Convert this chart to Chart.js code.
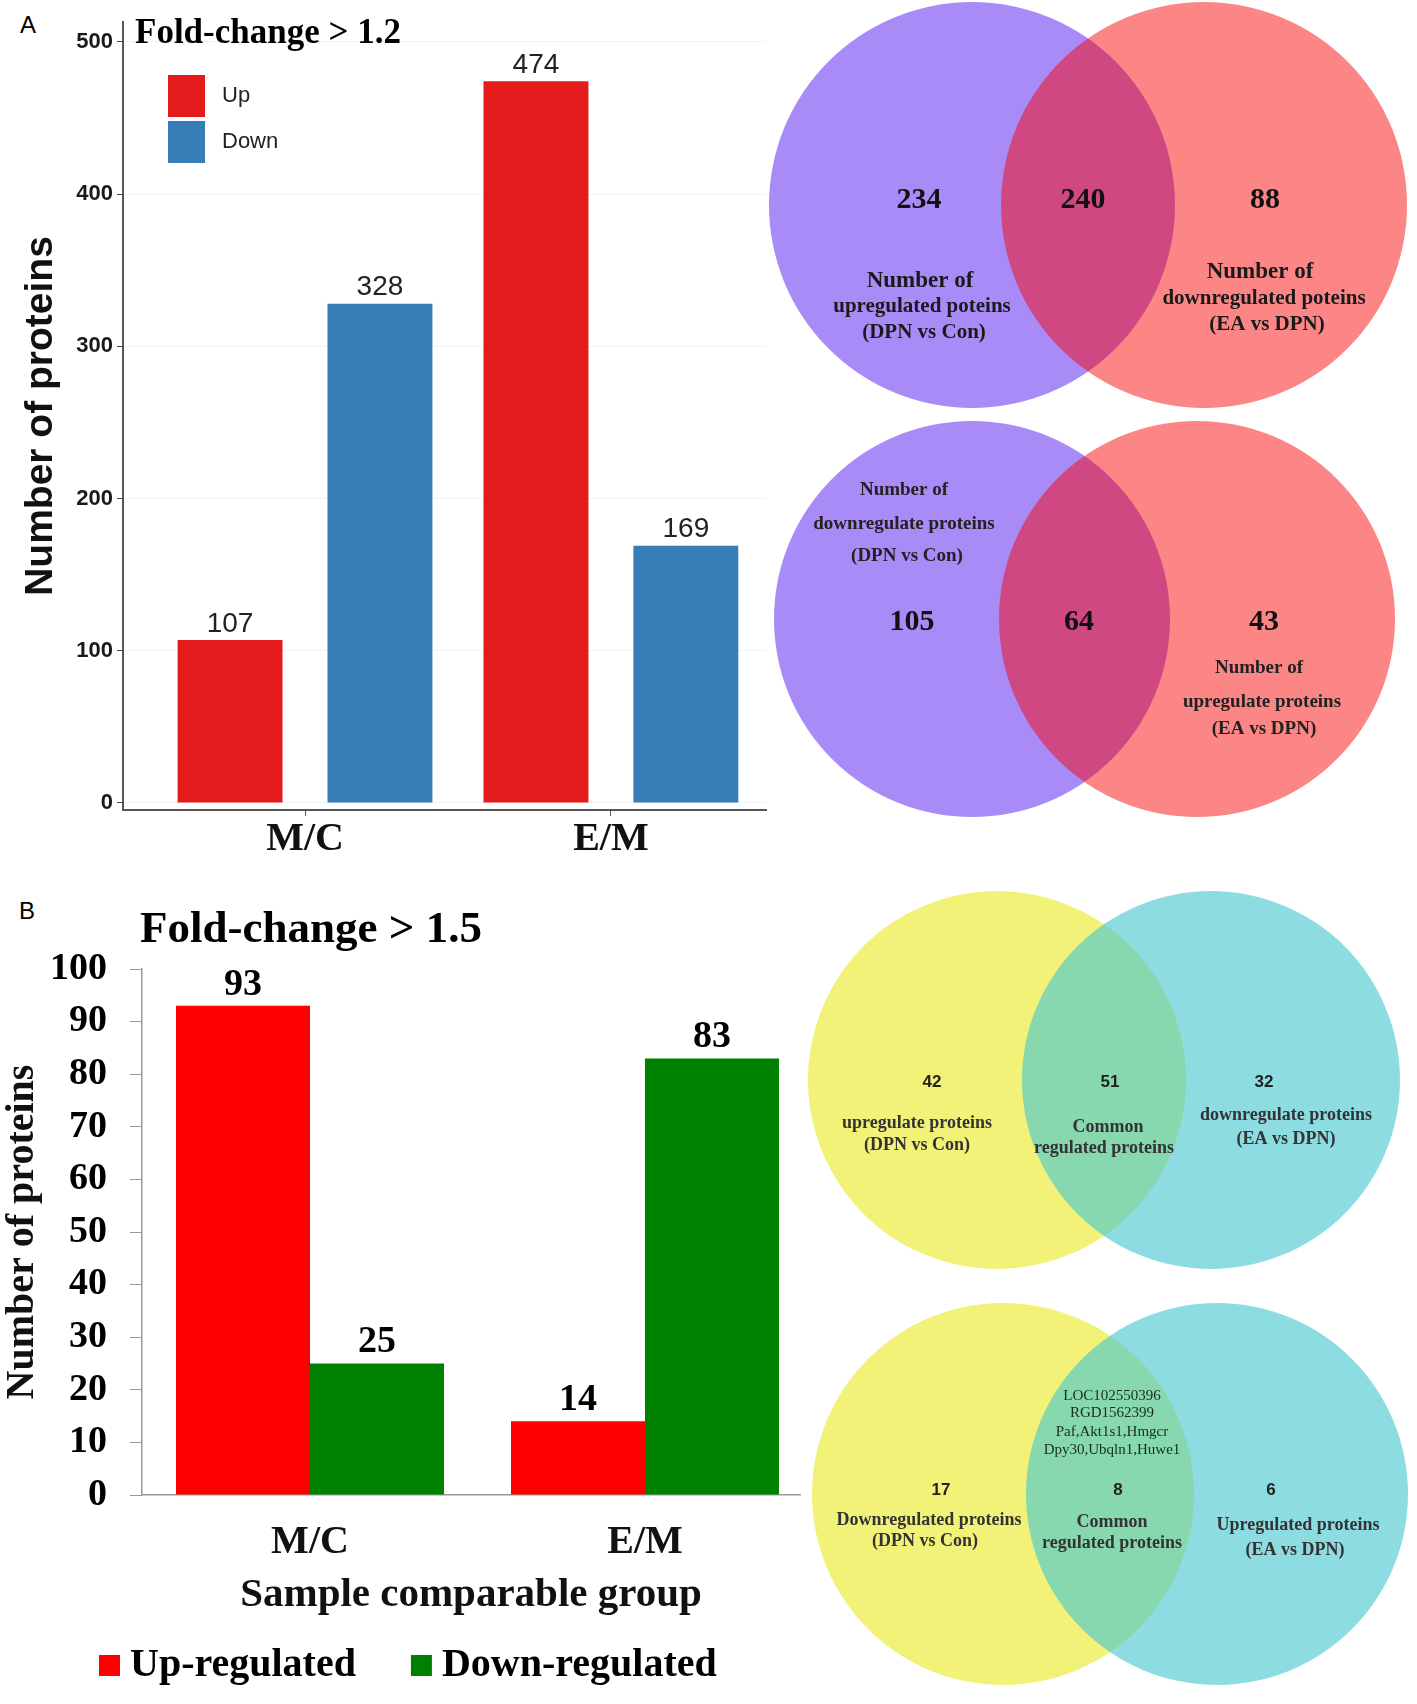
<!DOCTYPE html>
<html>
<head>
<meta charset="utf-8">
<script src="https://cdn.jsdelivr.net/npm/chart.js@4.4.1/dist/chart.umd.min.js"></script>
<style>
  html, body { margin: 0; padding: 0; background: #fff; }
  #page { position: relative; width: 1417px; height: 1704px; overflow: hidden; background: #fff; }
  canvas { position: absolute; }
  .tag { position: absolute; font: 24px/24px "Liberation Sans", Arial, sans-serif; color: #000; }
</style>
</head>
<body>
<div id="page">
  <div class="tag" style="left:20px;top:13px">A</div>
  <div class="tag" style="left:19px;top:899px">B</div>
  <canvas id="barA" width="770" height="870" style="left:0;top:0"></canvas>
  <canvas id="barB" width="810" height="834" style="left:0;top:870px"></canvas>
  <canvas id="vennA1" width="657" height="415" style="left:760px;top:0"></canvas>
  <canvas id="vennA2" width="657" height="420" style="left:760px;top:415px"></canvas>
  <canvas id="vennB1" width="627" height="410" style="left:790px;top:870px"></canvas>
  <canvas id="vennB2" width="627" height="419" style="left:790px;top:1285px"></canvas>
</div>
<script>
// ---- data ----
const groupsA = ['M/C', 'E/M'];
const upA = [107, 474];
const downA = [328, 169];
const yTicksA = [0, 100, 200, 300, 400, 500];

const groupsB = ['M/C', 'E/M'];
const upB = [93, 14];
const downB = [25, 83];
const yTicksB = [0, 10, 20, 30, 40, 50, 60, 70, 80, 90, 100];

// venn counts: [left only, shared, right only]
const vennUpA = [234, 240, 88];
const vennDownA = [105, 64, 43];
const vennUpB = [42, 51, 32];
const vennDownB = [17, 8, 6];
const sharedGenesB = ['LOC102550396', 'RGD1562399', 'Paf,Akt1s1,Hmgcr', 'Dpy30,Ubqln1,Huwe1'];

const SERIF = '"Liberation Serif", "Times New Roman", serif';
const SANS = '"Liberation Sans", Arial, sans-serif';

// free text drawn on a canvas; x/y are page pixels, shifted by the canvas offset
const notes = {
  id: 'notes',
  afterDatasetsDraw(chart, args, opts) {
    const ctx = chart.ctx;
    ctx.save();
    (opts.items || []).forEach(it => {
      ctx.font = it.font;
      ctx.fillStyle = it.color || '#111';
      ctx.textAlign = it.align || 'center';
      ctx.textBaseline = it.baseline || 'middle';
      ctx.fillText(it.text, it.x - (opts.left || 0), it.y - (opts.top || 0));
    });
    ctx.restore();
  }
};

// value printed above every bar
const barValues = {
  id: 'barValues',
  afterDatasetsDraw(chart, args, opts) {
    const ctx = chart.ctx;
    ctx.save();
    ctx.font = opts.font;
    ctx.fillStyle = opts.color;
    ctx.textAlign = 'center';
    ctx.textBaseline = 'middle';
    chart.data.datasets.forEach((ds, di) => {
      chart.getDatasetMeta(di).data.forEach((bar, i) => {
        ctx.fillText(String(ds.data[i].y), bar.x, bar.y - opts.offset);
      });
    });
    ctx.restore();
  }
};

// simple box legend, vertical or horizontal
const boxLegend = {
  id: 'boxLegend',
  afterDraw(chart, args, o) {
    const ctx = chart.ctx;
    ctx.save();
    ctx.font = o.font;
    ctx.textAlign = 'left';
    ctx.textBaseline = 'middle';
    let x = o.x, y = o.y;
    chart.data.datasets.forEach(ds => {
      ctx.fillStyle = ds.backgroundColor;
      ctx.fillRect(x, y, o.boxW, o.boxH);
      ctx.fillStyle = o.color;
      ctx.fillText(ds.label, x + o.boxW + o.gap, y + o.boxH / 2);
      if (o.horizontal) {
        x += o.boxW + o.gap + ctx.measureText(ds.label).width + o.spacing;
      } else {
        y += o.boxH + o.spacing;
      }
    });
    ctx.restore();
  }
};

const toPoints = arr => arr.map((v, i) => ({ x: i, y: v }));

// ---- panel A bar chart ----
new Chart(document.getElementById('barA'), {
  type: 'bar',
  data: {
    datasets: [
      { label: 'Up', data: toPoints(upA), backgroundColor: '#E41A1C', categoryPercentage: 0.98, barPercentage: 0.7 },
      { label: 'Down', data: toPoints(downA), backgroundColor: '#377EB8', categoryPercentage: 0.98, barPercentage: 0.7 }
    ]
  },
  options: {
    responsive: false,
    animation: false,
    devicePixelRatio: 1,
    events: [],
    layout: { padding: { top: 22, right: 4, bottom: 0, left: 0 } },
    scales: {
      x: {
        type: 'linear', min: -0.595, max: 1.507, offset: false,
        afterBuildTicks: s => { s.ticks = groupsA.map((g, i) => ({ value: i })); },
        afterFit: s => { s.height = 60; },
        ticks: {
          callback: v => groupsA[v], autoSkip: false, maxRotation: 0, padding: 0,
          color: '#111', font: { family: SERIF, size: 40, weight: 'bold' }
        },
        grid: { drawOnChartArea: false, offset: false, tickLength: 6, tickColor: '#555' },
        border: { color: '#555', width: 2 }
      },
      y: {
        min: -4.6, max: 513,
        afterBuildTicks: s => { s.ticks = yTicksA.map(v => ({ value: v })); },
        afterFit: s => { s.width = 123; },
        ticks: { padding: 4, color: '#1a1a1a', font: { family: SANS, size: 22, weight: 'bold' } },
        grid: { color: '#f2f2f2', tickColor: '#444', tickLength: 6 },
        border: { color: '#555', width: 2 },
        title: {
          display: true, text: 'Number of proteins', color: '#111',
          font: { family: SANS, size: 39, weight: 'bold' }, padding: { top: 18, bottom: 0 }
        }
      }
    },
    plugins: {
      legend: { display: false },
      tooltip: { enabled: false },
      barValues: { font: '28px ' + SANS, color: '#222', offset: 16 },
      boxLegend: { x: 168, y: 75, boxW: 37, boxH: 42, gap: 17, spacing: 4, font: '22px ' + SANS, color: '#222' },
      notes: {
        items: [
          { text: 'Fold-change > 1.2', x: 135, y: 43, align: 'left', baseline: 'alphabetic', font: 'bold 35px ' + SERIF, color: '#000' }
        ]
      }
    }
  },
  plugins: [barValues, boxLegend, notes]
});

// ---- panel B bar chart ----
new Chart(document.getElementById('barB'), {
  type: 'bar',
  data: {
    datasets: [
      { label: 'Up-regulated', data: toPoints(upB), backgroundColor: '#FF0000', categoryPercentage: 0.8, barPercentage: 1.0 },
      { label: 'Down-regulated', data: toPoints(downB), backgroundColor: '#008000', categoryPercentage: 0.8, barPercentage: 1.0 }
    ]
  },
  options: {
    responsive: false,
    animation: false,
    devicePixelRatio: 1,
    events: [],
    layout: { padding: { top: 99, right: 10, bottom: 0, left: 0 } },
    scales: {
      x: {
        type: 'linear', min: -0.5015, max: 1.4627, offset: false,
        afterBuildTicks: s => { s.ticks = groupsB.map((g, i) => ({ value: i })); },
        afterFit: s => { s.height = 209; },
        ticks: {
          callback: v => groupsB[v], autoSkip: false, maxRotation: 0, padding: 24,
          color: '#111', font: { family: SERIF, size: 40, weight: 'bold' }
        },
        grid: { display: false, drawTicks: false, offset: false },
        border: { color: '#9a9a9a', width: 1.5 },
        title: {
          display: true, text: 'Sample comparable group', color: '#111',
          font: { family: SERIF, size: 41, weight: 'bold' }, padding: { top: 0, bottom: 84 }
        }
      },
      y: {
        min: 0, max: 100,
        afterBuildTicks: s => { s.ticks = yTicksB.map(v => ({ value: v })); },
        afterFit: s => { s.width = 142; },
        ticks: { padding: 23, color: '#000', font: { family: SERIF, size: 38, weight: 'bold' } },
        grid: { drawOnChartArea: false, tickColor: '#9a9a9a', tickLength: 12 },
        border: { color: '#9a9a9a', width: 1.5 },
        title: {
          display: true, text: 'Number of proteins', color: '#111',
          font: { family: SERIF, size: 40, weight: 'bold', lineHeight: 1.1 }, padding: { top: 1, bottom: 0 }
        }
      }
    },
    plugins: {
      legend: { display: false },
      tooltip: { enabled: false },
      barValues: { font: 'bold 38px ' + SERIF, color: '#000', offset: 21 },
      boxLegend: { horizontal: true, x: 99, y: 785, boxW: 21, boxH: 21, gap: 10, spacing: 55, font: 'bold 40px ' + SERIF, color: '#000' },
      notes: {
        top: 870,
        items: [
          { text: 'Fold-change > 1.5', x: 140, y: 942, align: 'left', baseline: 'alphabetic', font: 'bold 45px ' + SERIF, color: '#000' }
        ]
      }
    }
  },
  plugins: [barValues, boxLegend, notes]
});

// ---- venn diagrams: two sets at x = -1 and x = +1 ----
function venn(id, geo, colors, items) {
  const d = (geo.c2 - geo.c1) / 2;
  const mid = (geo.c1 + geo.c2) / 2 - geo.left;
  const cy = geo.cy - geo.top;
  new Chart(document.getElementById(id), {
    type: 'scatter',
    data: {
      datasets: [{
        data: [{ x: -1, y: 0 }, { x: 1, y: 0 }],
        backgroundColor: colors,
        borderWidth: 0,
        pointRadius: geo.r,
        pointHoverRadius: geo.r,
        clip: false
      }]
    },
    options: {
      responsive: false,
      animation: false,
      devicePixelRatio: 1,
      events: [],
      layout: { padding: 0, autoPadding: false },
      scales: {
        x: { type: 'linear', display: false, min: -mid / d, max: (geo.w - mid) / d },
        y: { type: 'linear', display: false, min: -(geo.h - cy) / d, max: cy / d }
      },
      plugins: {
        legend: { display: false },
        tooltip: { enabled: false },
        notes: { left: geo.left, top: geo.top, items: items }
      }
    },
    plugins: [notes]
  });
}

const cntA = 'bold 30px ' + SERIF;
const cntB = 'bold 17px ' + SANS;
const txtB = 'bold 18px ' + SERIF;
const purpleRed = ['#A98BF8', 'rgba(248,0,0,0.48)'];
const yellowCyan = ['#F2F279', 'rgba(70,198,208,0.62)'];

venn('vennA1', { left: 760, top: 0, w: 657, h: 415, c1: 972, c2: 1204, cy: 205, r: 203 }, purpleRed, [
  { text: String(vennUpA[0]), x: 919, y: 200, font: cntA },
  { text: String(vennUpA[1]), x: 1083, y: 200, font: cntA },
  { text: String(vennUpA[2]), x: 1265, y: 200, font: cntA },
  { text: 'Number of', x: 920, y: 281, font: 'bold 23px ' + SERIF, color: '#1a1a1a' },
  { text: 'upregulated poteins', x: 922, y: 307, font: 'bold 21px ' + SERIF, color: '#1a1a1a' },
  { text: '(DPN vs Con)', x: 924, y: 333, font: 'bold 21px ' + SERIF, color: '#1a1a1a' },
  { text: 'Number of', x: 1260, y: 272, font: 'bold 23px ' + SERIF, color: '#1a1a1a' },
  { text: 'downregulated poteins', x: 1264, y: 299, font: 'bold 21px ' + SERIF, color: '#1a1a1a' },
  { text: '(EA vs DPN)', x: 1267, y: 325, font: 'bold 21px ' + SERIF, color: '#1a1a1a' }
]);

venn('vennA2', { left: 760, top: 415, w: 657, h: 420, c1: 972, c2: 1197, cy: 619, r: 198 }, purpleRed, [
  { text: 'Number of', x: 904, y: 490, font: 'bold 19px ' + SERIF, color: '#222' },
  { text: 'downregulate proteins', x: 904, y: 524, font: 'bold 19px ' + SERIF, color: '#222' },
  { text: '(DPN vs Con)', x: 907, y: 556, font: 'bold 19px ' + SERIF, color: '#222' },
  { text: String(vennDownA[0]), x: 912, y: 622, font: cntA },
  { text: String(vennDownA[1]), x: 1079, y: 622, font: cntA },
  { text: String(vennDownA[2]), x: 1264, y: 622, font: cntA },
  { text: 'Number of', x: 1259, y: 668, font: 'bold 19px ' + SERIF, color: '#222' },
  { text: 'upregulate proteins', x: 1262, y: 702, font: 'bold 19px ' + SERIF, color: '#222' },
  { text: '(EA vs DPN)', x: 1264, y: 729, font: 'bold 19px ' + SERIF, color: '#222' }
]);

venn('vennB1', { left: 790, top: 870, w: 627, h: 410, c1: 997, c2: 1211, cy: 1080, r: 189 }, yellowCyan, [
  { text: String(vennUpB[0]), x: 932, y: 1082, font: cntB, color: '#222' },
  { text: String(vennUpB[1]), x: 1110, y: 1082, font: cntB, color: '#222' },
  { text: String(vennUpB[2]), x: 1264, y: 1082, font: cntB, color: '#222' },
  { text: 'upregulate proteins', x: 917, y: 1123, font: txtB, color: '#333' },
  { text: '(DPN vs Con)', x: 917, y: 1145, font: txtB, color: '#333' },
  { text: 'Common', x: 1108, y: 1127, font: txtB, color: '#333' },
  { text: 'regulated proteins', x: 1104, y: 1148, font: txtB, color: '#333' },
  { text: 'downregulate proteins', x: 1286, y: 1115, font: txtB, color: '#333' },
  { text: '(EA vs DPN)', x: 1286, y: 1139, font: txtB, color: '#333' }
]);

venn('vennB2', { left: 790, top: 1285, w: 627, h: 419, c1: 1003, c2: 1217, cy: 1494, r: 191 }, yellowCyan,
  sharedGenesB.map((g, i) => ({ text: g, x: 1112, y: [1396, 1413, 1432, 1450][i], font: '15px ' + SERIF, color: '#16301c' }))
  .concat([
    { text: String(vennDownB[0]), x: 941, y: 1490, font: cntB, color: '#222' },
    { text: String(vennDownB[1]), x: 1118, y: 1490, font: cntB, color: '#222' },
    { text: String(vennDownB[2]), x: 1271, y: 1490, font: cntB, color: '#222' },
    { text: 'Downregulated proteins', x: 929, y: 1520, font: txtB, color: '#333' },
    { text: '(DPN vs Con)', x: 925, y: 1541, font: txtB, color: '#333' },
    { text: 'Common', x: 1112, y: 1522, font: txtB, color: '#333' },
    { text: 'regulated proteins', x: 1112, y: 1543, font: txtB, color: '#333' },
    { text: 'Upregulated proteins', x: 1298, y: 1525, font: txtB, color: '#333' },
    { text: '(EA vs DPN)', x: 1295, y: 1550, font: txtB, color: '#333' }
  ])
);
</script>
</body>
</html>
